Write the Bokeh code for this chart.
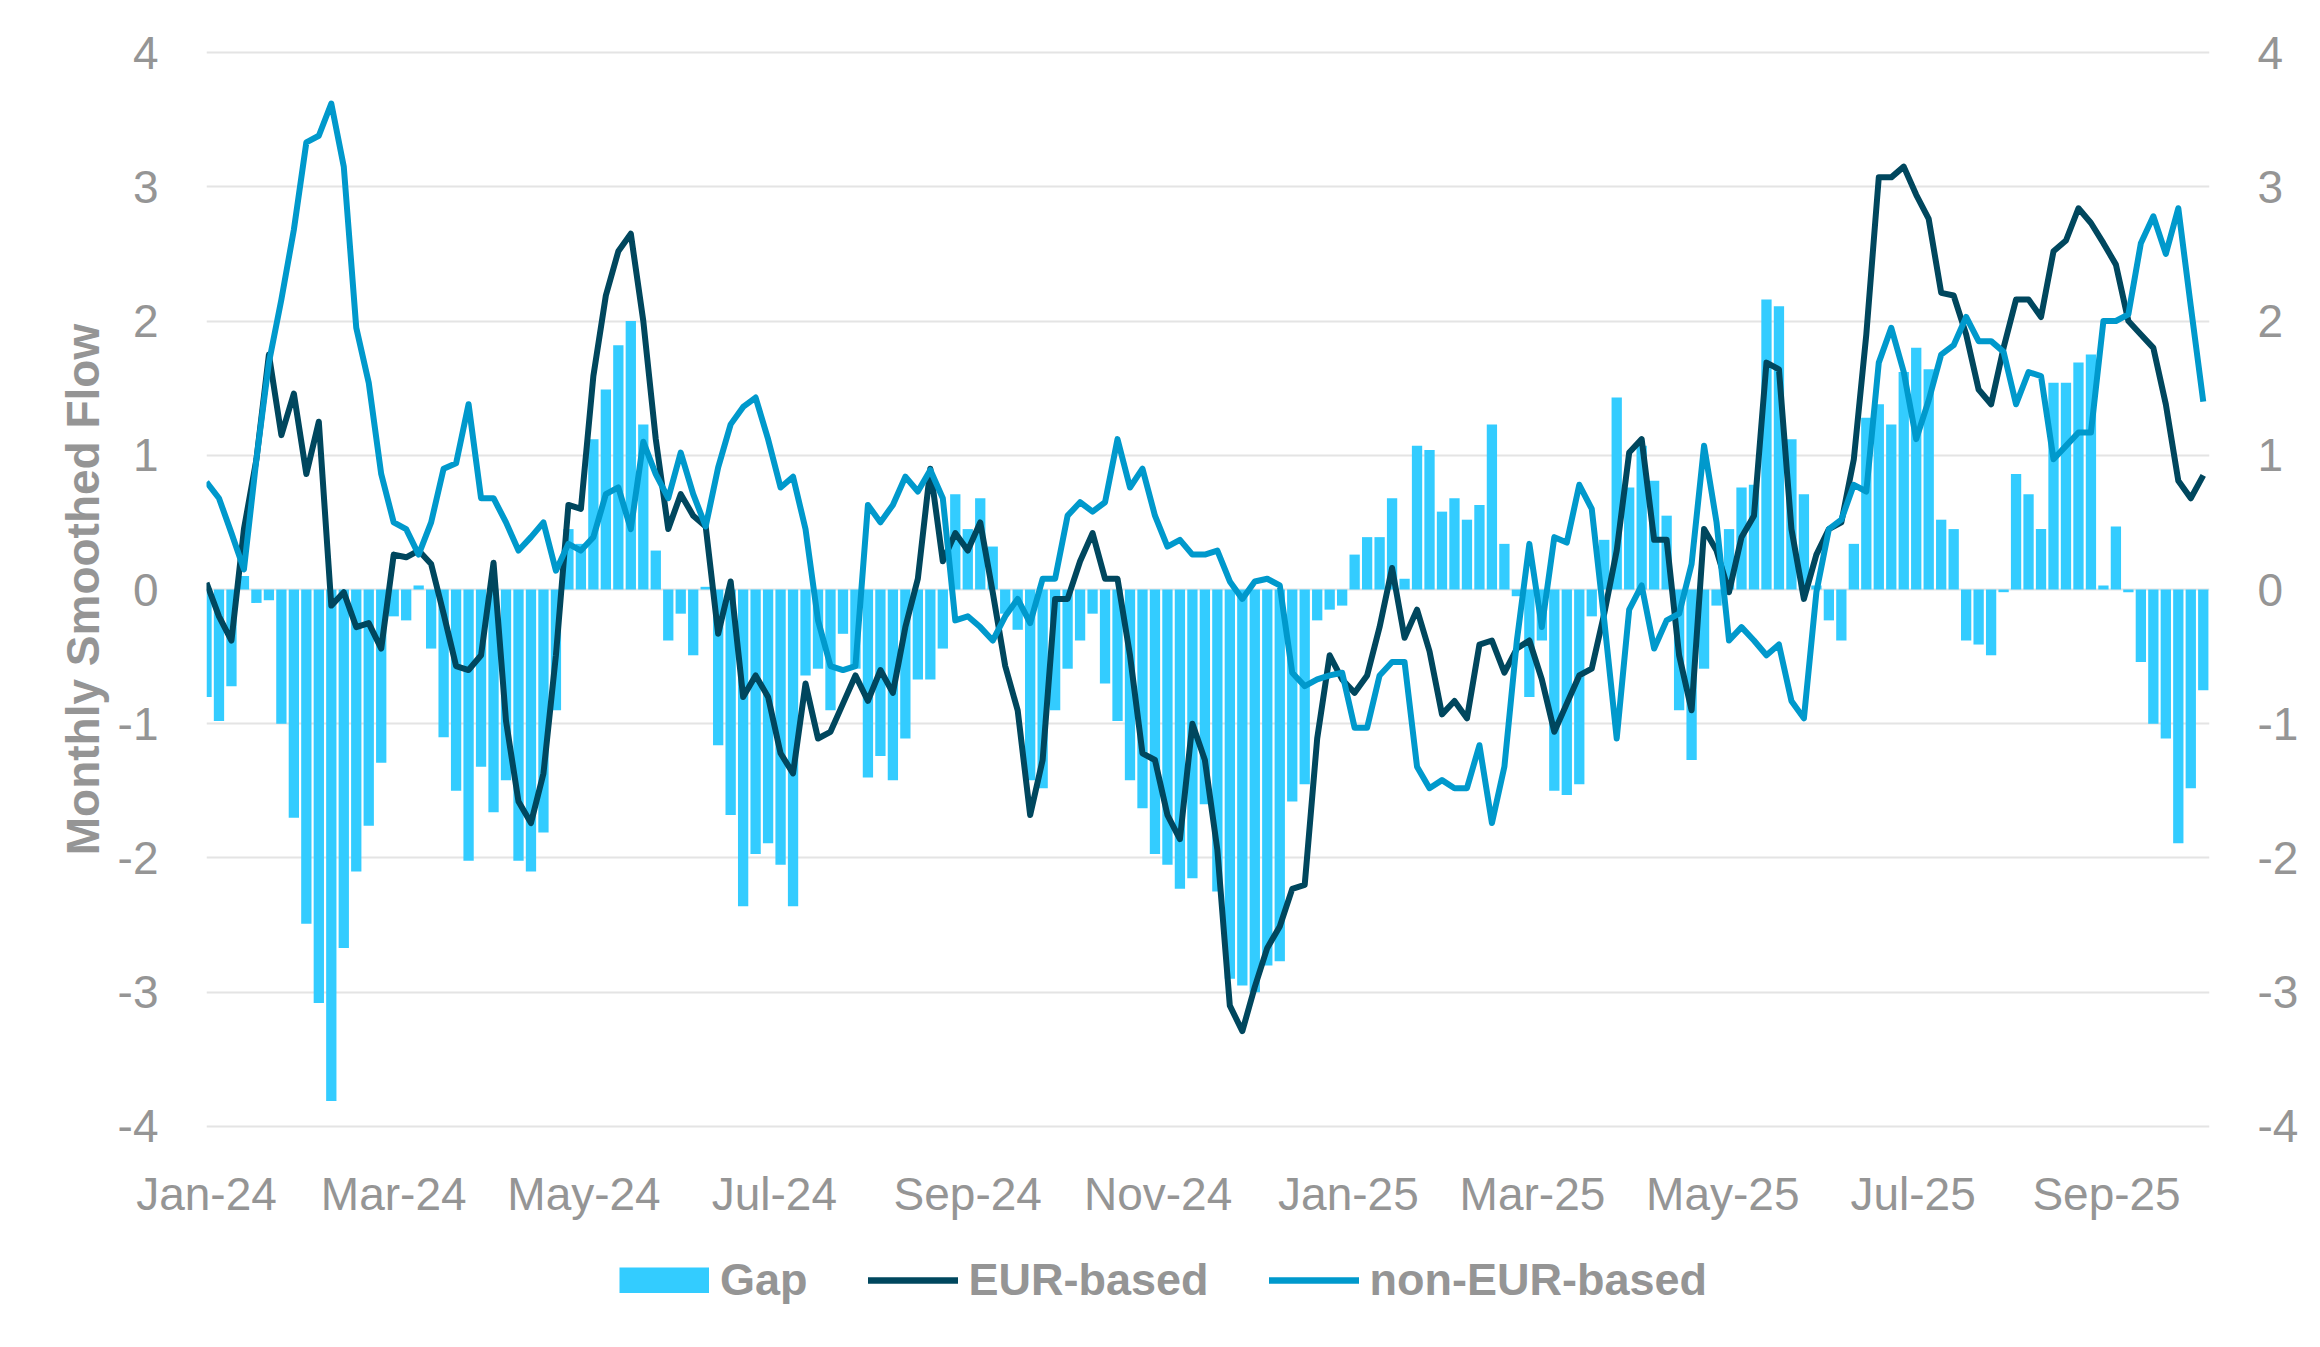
from datetime import datetime

import pandas as pd
from bokeh.embed import file_html
from bokeh.layouts import column
from bokeh.models import (ColumnDataSource, CustomJSTickFormatter,
                          DatetimeTickFormatter, FixedTicker, Legend,
                          LegendItem, LinearAxis, MonthsTicker, Range1d)
from bokeh.plotting import figure
from bokeh.resources import INLINE

# readings every 4 days from 1 Jan 2024
start_date = datetime(2024, 1, 1)
end_date = datetime(2025, 10, 4)

gap = [
    -0.80, -0.98, -0.72, 0.10, -0.10, -0.08, -1.00, -1.70, -2.49, -3.08,
    -3.81, -2.67, -2.10, -1.76, -1.29, -0.20, -0.23, 0.03, -0.44, -1.10,
    -1.50, -2.02, -1.32, -1.66, -1.42, -2.02, -2.10, -1.81, -0.90, 0.45,
    0.34, 1.12, 1.49, 1.82, 2.00, 1.23, 0.29, -0.38, -0.18, -0.49,
    0.02, -1.16, -1.68, -2.36, -1.97, -1.89, -2.05, -2.36, -0.64, -0.59,
    -0.90, -0.33, -0.59, -1.40, -1.24, -1.42, -1.11, -0.67, -0.67, -0.44,
    0.71, 0.45, 0.68, 0.32, -0.18, -0.30, -1.42, -1.48, -0.90, -0.59,
    -0.38, -0.18, -0.70, -0.98, -1.42, -1.63, -1.97, -2.05, -2.23, -2.15,
    -1.60, -2.25, -2.90, -2.95, -3.00, -2.80, -2.77, -1.58, -1.45, -0.23,
    -0.15, -0.12, 0.26, 0.39, 0.39, 0.68, 0.08, 1.07, 1.04, 0.58,
    0.68, 0.52, 0.63, 1.23, 0.34, -0.05, -0.80, -0.38, -1.50, -1.53,
    -1.45, -0.20, 0.37, 1.43, 0.76, 1.07, 0.81, 0.55, -0.90, -1.27,
    -0.59, -0.12, 0.45, 0.76, 0.78, 2.16, 2.11, 1.12, 0.71, 0.03,
    -0.23, -0.38, 0.34, 1.28, 1.38, 1.23, 1.62, 1.80, 1.64, 0.52,
    0.45, -0.38, -0.41, -0.49, -0.02, 0.86, 0.71, 0.45, 1.54, 1.54,
    1.69, 1.75, 0.03, 0.47, -0.02, -0.54, -1.00, -1.11, -1.89, -1.48,
    -0.75,
]

eur_based = [
    0.05, -0.20, -0.38, 0.45, 0.97, 1.75, 1.15, 1.46, 0.86, 1.25,
    -0.12, -0.02, -0.28, -0.25, -0.44, 0.26, 0.24, 0.29, 0.19, -0.18,
    -0.57, -0.60, -0.49, 0.20, -0.98, -1.58, -1.74, -1.37, -0.49, 0.63,
    0.60, 1.59, 2.19, 2.52, 2.65, 2.00, 1.12, 0.45, 0.71, 0.55,
    0.47, -0.33, 0.06, -0.80, -0.64, -0.80, -1.22, -1.37, -0.70, -1.11,
    -1.06, -0.85, -0.64, -0.83, -0.60, -0.77, -0.28, 0.08, 0.90, 0.21,
    0.42, 0.29, 0.50, -0.02, -0.57, -0.90, -1.68, -1.27, -0.07, -0.07,
    0.21, 0.42, 0.08, 0.08, -0.49, -1.22, -1.27, -1.68, -1.86, -1.00,
    -1.27, -1.94, -3.10, -3.29, -2.96, -2.67, -2.51, -2.23, -2.20, -1.11,
    -0.49, -0.67, -0.77, -0.64, -0.28, 0.16, -0.36, -0.15, -0.46, -0.93,
    -0.83, -0.96, -0.41, -0.38, -0.62, -0.44, -0.38, -0.67, -1.06, -0.85,
    -0.64, -0.59, -0.18, 0.29, 1.02, 1.12, 0.37, 0.37, -0.49, -0.90,
    0.45, 0.29, -0.02, 0.39, 0.55, 1.69, 1.64, 0.45, -0.07, 0.26,
    0.45, 0.50, 0.97, 1.90, 3.07, 3.07, 3.15, 2.94, 2.76, 2.21,
    2.19, 1.90, 1.49, 1.38, 1.80, 2.16, 2.16, 2.03, 2.52, 2.60,
    2.84, 2.73, 2.58, 2.42, 2.00, 1.90, 1.80, 1.38, 0.81, 0.68,
    0.85,
]

non_eur_based = [
    0.80, 0.68, 0.42, 0.15, 0.97, 1.69, 2.16, 2.68, 3.33, 3.38,
    3.62, 3.15, 1.95, 1.54, 0.86, 0.50, 0.45, 0.26, 0.50, 0.90,
    0.94, 1.38, 0.68, 0.68, 0.50, 0.29, 0.39, 0.50, 0.14, 0.34,
    0.29, 0.39, 0.71, 0.76, 0.45, 1.10, 0.86, 0.68, 1.02, 0.71,
    0.47, 0.91, 1.23, 1.36, 1.43, 1.12, 0.76, 0.84, 0.45, -0.23,
    -0.57, -0.60, -0.57, 0.63, 0.50, 0.63, 0.84, 0.73, 0.89, 0.68,
    -0.23, -0.20, -0.28, -0.38, -0.20, -0.07, -0.25, 0.08, 0.08, 0.55,
    0.65, 0.58, 0.65, 1.12, 0.76, 0.90, 0.55, 0.32, 0.37, 0.26,
    0.26, 0.29, 0.06, -0.07, 0.06, 0.08, 0.03, -0.62, -0.72, -0.67,
    -0.64, -0.62, -1.03, -1.03, -0.64, -0.54, -0.54, -1.32, -1.48, -1.42,
    -1.48, -1.48, -1.16, -1.74, -1.32, -0.38, 0.34, -0.28, 0.39, 0.35,
    0.78, 0.60, -0.23, -1.11, -0.15, 0.03, -0.44, -0.23, -0.18, 0.19,
    1.07, 0.50, -0.38, -0.28, -0.38, -0.49, -0.41, -0.83, -0.96, -0.02,
    0.45, 0.52, 0.78, 0.73, 1.69, 1.95, 1.62, 1.12, 1.41, 1.75,
    1.82, 2.03, 1.85, 1.85, 1.77, 1.38, 1.62, 1.59, 0.97, 1.07,
    1.17, 1.17, 2.00, 2.00, 2.05, 2.58, 2.78, 2.50, 2.84, 2.11,
    1.40,
]

y_ticks = [-4, -3, -2, -1, 0, 1, 2, 3, 4]

gray = "#959595"
font = "Liberation Sans"
gap_color = "#33CCFF"
eur_color = "#00475E"
non_eur_color = "#0099CC"

src = ColumnDataSource(data=dict(
    date=pd.date_range(start_date, periods=len(gap), freq="4D"),
    gap=gap,
    eur=eur_based,
    non_eur=non_eur_based,
))

p = figure(
    width=2304, height=1222,
    x_axis_type="datetime",
    x_range=Range1d(start_date, end_date),
    y_range=Range1d(-4.015, 4.015),
    output_backend="svg",
    toolbar_location=None,
    min_border_left=206, min_border_right=95,
    min_border_top=50, min_border_bottom=88,
)
p.outline_line_color = None
p.xgrid.grid_line_color = None
p.ygrid.grid_line_color = "#e4e4e4"
p.ygrid.grid_line_width = 2
p.ygrid.ticker = FixedTicker(ticks=y_ticks)

bar_w = 3.3 * 24 * 3600 * 1000
p.vbar(x="date", top="gap", bottom=0, width=bar_w, source=src,
       fill_color=gap_color, line_color=None)
p.line("date", "eur", source=src, color=eur_color, line_width=6,
       line_join="round")
p.line("date", "non_eur", source=src, color=non_eur_color, line_width=6,
       line_join="round")

p.add_layout(LinearAxis(), "right")

for ax in p.yaxis:
    ax.ticker = FixedTicker(ticks=y_ticks)
    ax.formatter = CustomJSTickFormatter(code="return String(tick)")
    ax.major_label_standoff = 42

p.yaxis[0].axis_label = "Monthly Smoothed Flow"
p.yaxis[0].axis_label_text_font = font
p.yaxis[0].axis_label_text_font_size = "46px"
p.yaxis[0].axis_label_text_font_style = "bold"
p.yaxis[0].axis_label_text_color = gray
p.yaxis[0].axis_label_standoff = 6

p.xaxis.ticker = MonthsTicker(months=[0, 2, 4, 6, 8, 10])
p.xaxis.formatter = DatetimeTickFormatter(days="%b-%y", months="%b-%y",
                                          years="%b-%y")
p.xaxis.major_label_standoff = 33

for ax in p.xaxis + p.yaxis:
    ax.axis_line_color = None
    ax.major_tick_line_color = None
    ax.minor_tick_line_color = None
    ax.major_label_text_font = font
    ax.major_label_text_font_size = "46px"
    ax.major_label_text_color = gray

# legend strip under the chart (its frame lines up with the chart frame);
# the key renderers are hidden, only their legend swatches are drawn
leg = figure(
    width=2304, height=109,
    x_range=Range1d(0, 1), y_range=Range1d(0, 1),
    x_axis_location=None, y_axis_location=None,
    output_backend="svg", toolbar_location=None,
    min_border_left=0, min_border_right=0,
    min_border_top=0, min_border_bottom=0,
)
leg.outline_line_color = None
leg.grid.grid_line_color = None
gap_key = leg.line("date", "gap", source=src, color=gap_color,
                   line_width=26, line_cap="butt", visible=False)
eur_key = leg.line("date", "eur", source=src, color=eur_color,
                   line_width=6.5, line_cap="round", visible=False)
non_eur_key = leg.line("date", "non_eur", source=src, color=non_eur_color,
                       line_width=6.5, line_cap="round", visible=False)

legend = Legend(
    items=[
        LegendItem(label="Gap", renderers=[gap_key]),
        LegendItem(label="EUR-based", renderers=[eur_key]),
        LegendItem(label="non-EUR-based", renderers=[non_eur_key]),
    ],
    location=(413, 25),
    orientation="horizontal",
    glyph_width=90, glyph_height=26,
    label_standoff=11, spacing=60,
    padding=0, margin=0,
    border_line_color=None, background_fill_alpha=0,
    inactive_fill_alpha=0,
    label_text_font=font, label_text_font_size="45px",
    label_text_font_style="bold", label_text_color=gray,
)
leg.add_layout(legend)

open("out.html", "w").write(file_html(column(p, leg, spacing=0), INLINE))
